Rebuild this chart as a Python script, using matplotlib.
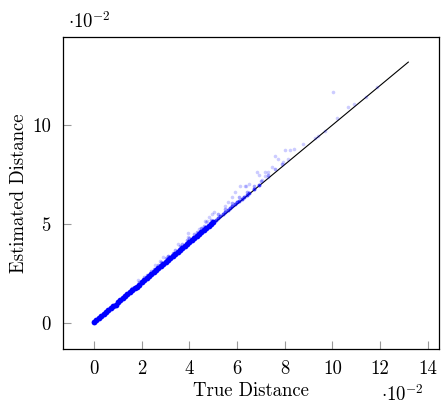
import matplotlib
matplotlib.use("Agg")
import matplotlib.pyplot as plt
from matplotlib.ticker import FixedLocator, FuncFormatter

# values in units of 1e-2 (as shown on the axes)
band_true = [0.0, 0.1, 0.2, 0.3, 0.4, 0.5, 0.6, 0.7, 0.8, 0.9,
             1.0, 1.1, 1.2, 1.3, 1.4, 1.5, 1.6, 1.7, 1.8, 1.9,
             2.0, 2.1, 2.2, 2.3, 2.4, 2.5, 2.6, 2.7, 2.8, 2.9,
             3.0, 3.1, 3.2, 3.3, 3.4, 3.5, 3.6, 3.7, 3.8, 3.9,
             4.0, 4.1, 4.2, 4.3, 4.4, 4.5, 4.6, 4.7, 4.8, 4.9, 5.0]
band_est = [0.02, 0.12, 0.22, 0.32, 0.42, 0.52, 0.62, 0.72, 0.82, 0.92,
            1.03, 1.13, 1.23, 1.33, 1.43, 1.53, 1.63, 1.73, 1.83, 1.93,
            2.05, 2.15, 2.25, 2.35, 2.45, 2.55, 2.65, 2.75, 2.85, 2.95,
            3.06, 3.16, 3.26, 3.36, 3.46, 3.56, 3.66, 3.76, 3.86, 3.96,
            4.07, 4.17, 4.27, 4.37, 4.47, 4.57, 4.67, 4.77, 4.87, 4.97, 5.07]

tail_true = [5.1, 5.2, 5.3, 5.4, 5.5, 5.6, 5.7, 5.8, 5.9, 6.0, 6.1, 6.2,
             6.3, 6.4, 6.5, 6.7, 6.9]
tail_est = [5.18, 5.28, 5.38, 5.48, 5.58, 5.68, 5.78, 5.88, 5.98, 6.08,
            6.17, 6.27, 6.37, 6.46, 6.56, 6.75, 6.95]

near_true = [1.0, 1.3, 1.6, 1.9, 2.1, 2.2, 2.4, 2.5, 2.7, 2.8, 3.0, 3.1,
             3.3, 3.4, 3.6, 3.7, 3.9, 4.0, 4.2, 4.3, 4.5, 4.6, 4.9, 5.2,
             5.5, 5.8, 6.1, 6.4, 6.7, 7.0, 7.3, 7.6, 7.9]
near_est = [1.1, 1.42, 1.75, 2.08, 2.3, 2.4, 2.62, 2.72, 2.92, 3.05, 3.25,
            3.35, 3.55, 3.68, 3.88, 3.98, 4.2, 4.3, 4.5, 4.6, 4.8, 4.88,
            5.2, 5.48, 5.76, 6.05, 6.35, 6.62, 6.9, 7.18, 7.48, 7.76, 8.05]

scatter_true = [1.86, 2.56, 2.77, 2.90, 3.11, 3.32, 3.53, 3.77, 3.95, 3.95,
                4.42, 4.51, 4.65, 4.68, 4.72, 4.82, 4.93, 5.03, 5.49, 5.63,
                5.77, 5.91, 6.12, 6.33, 6.38, 6.51, 6.85, 6.90, 7.03, 7.17,
                7.17, 7.31, 7.31, 7.45, 7.60, 7.73, 7.94, 8.01, 8.15, 8.22,
                8.39, 8.77, 9.26, 9.40, 9.68, 10.02, 10.20, 10.67, 10.90,
                11.39, 11.87]
scatter_est = [2.16, 2.91, 3.12, 3.32, 3.35, 3.47, 3.99, 3.89, 4.56, 4.33,
               4.72, 4.78, 5.12, 5.10, 5.12, 5.34, 5.50, 5.62, 5.88, 6.08,
               6.35, 6.60, 6.89, 6.92, 6.92, 7.04, 7.61, 7.47, 7.22, 7.64,
               7.44, 7.64, 7.39, 7.86, 8.43, 8.27, 8.12, 8.71, 8.29, 8.74,
               8.77, 9.04, 9.33, 9.44, 9.70, 11.65, 10.34, 10.93, 11.05,
               11.40, 11.93]

ref_line = [0.0, 13.18]
x_ticks = [0, 2, 4, 6, 8, 10, 12, 14]
y_ticks = [0, 5, 10]

plt.rcParams["font.family"] = "serif"
plt.rcParams["font.serif"] = ["cmr10"]
plt.rcParams["mathtext.fontset"] = "cm"
plt.rcParams["axes.formatter.use_mathtext"] = True

W, H = 441, 405
fig = plt.figure(figsize=(W / 100, H / 100), dpi=100)
ax = fig.add_axes([63.3 / W, 1 - 349 / H, (439.3 - 63.3) / W, (349 - 37) / H])

ax.plot(ref_line, ref_line, color="black", lw=0.8, zorder=1)
ax.plot(near_true, near_est, "o", color="blue", ms=2.6, mew=0, alpha=0.35, zorder=2)
ax.plot(scatter_true, scatter_est, "o", color="blue", ms=2.6, mew=0, alpha=0.2, zorder=2)
ax.plot(band_true, band_est, "o", color="blue", ms=4.2, mew=0, alpha=1.0, zorder=3)
ax.plot(tail_true, tail_est, "o", color="blue", ms=2.8, mew=0, alpha=0.7, zorder=3)

ax.set_xlim(-1.29, 14.48)
ax.set_ylim(-1.33, 14.45)
ax.xaxis.set_major_locator(FixedLocator(x_ticks))
ax.yaxis.set_major_locator(FixedLocator(y_ticks))
fmt = FuncFormatter(lambda v, _: "%d" % v)
ax.xaxis.set_major_formatter(fmt)
ax.yaxis.set_major_formatter(fmt)
ax.tick_params(direction="in", length=6, width=0.8, color="#999999",
               labelsize=13.5, top=False, right=False)
ax.tick_params(axis="x", pad=8)
ax.tick_params(axis="y", pad=9)
for s in ax.spines.values():
    s.set_linewidth(0.9)

ax.set_xlabel("True Distance", fontsize=13.5, labelpad=3)
ax.set_ylabel("Estimated Distance", fontsize=13.5, labelpad=3)

fig.text(68 / W, 1 - 28 / H, r"$\cdot 10^{-2}$", fontsize=13.5, ha="left", va="baseline")
fig.text(424 / W, 1 - 401 / H, r"$\cdot 10^{-2}$", fontsize=13.5, ha="right", va="baseline")

fig.savefig("out.png", dpi=100)
